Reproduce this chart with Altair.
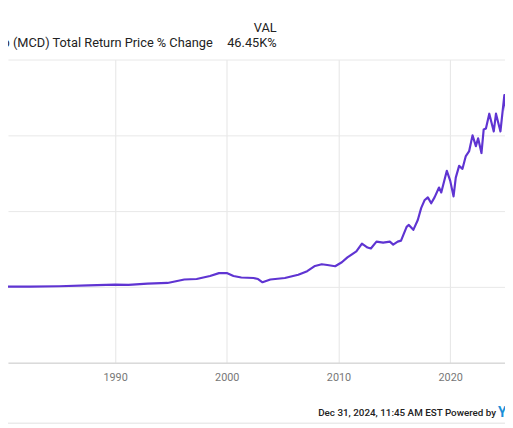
import altair as alt
import pandas as pd

# ---- data (decimal year, total return % change) ----
years = [1979.7, 1982.4, 1985.0, 1987.6, 1990.0, 1991.2, 1992.9, 1994.7, 1996.2, 1997.3,
         1998.5, 1999.3, 2000.0, 2000.6, 2001.3, 2002.4, 2002.8, 2003.2, 2003.9, 2005.2,
         2006.4, 2007.2, 2007.9, 2008.5, 2009.0, 2009.7, 2010.3, 2010.8, 2011.6, 2012.1,
         2012.6, 2012.9, 2013.4, 2014.0, 2014.6, 2014.9, 2015.3, 2015.6, 2016.1, 2016.3,
         2016.7, 2017.1, 2017.4, 2017.7, 2018.0, 2018.3, 2018.6, 2019.0, 2019.2, 2019.7,
         2020.0, 2020.3, 2020.5, 2020.8, 2021.1, 2021.4, 2021.7, 2022.0, 2022.3, 2022.5,
         2022.8, 2023.0, 2023.2, 2023.5, 2023.9, 2024.1, 2024.5, 2024.85, 2025.0]
values = [50, 60, 180, 390, 600, 550, 860, 1040, 1950, 2080,
          2860, 3640, 3640, 2860, 2470, 2340, 2080, 1220, 1950, 2340,
          3200, 4150, 5530, 5970, 5790, 5450, 6490, 7790, 9350, 11430,
          10390, 10130, 11950, 11690, 11950, 11170, 11950, 12210, 15840, 16360,
          15060, 17660, 20780, 22850, 23630, 22070, 23630, 26230, 24930, 30640,
          28050, 23890, 28830, 31940, 31160, 34540, 35840, 39990, 37140, 39210,
          35320, 41550, 41810, 45710, 41030, 45710, 41030, 50640, 46450]

x_ticks = [1980, 1990, 2000, 2010, 2020]
y_ticks = [-20000, 0, 20000, 40000, 60000]

header_label = ["VAL"]
legend_label = ["McDonald's Corp (MCD) Total Return Price % Change"]
final_value = ["46.45K%"]
footer_label = ["Dec 31, 2024, 11:45 AM EST Powered by"]
logo_label = ["Y"]

LINE_COLOR = "#5f34d2"
FONT = "Roboto"

df = pd.DataFrame({"year": years, "value": values})

x_scale = alt.Scale(domain=[1980.414, 2024.907], nice=False, zero=False)
y_scale = alt.Scale(domain=[-20000, 60000], nice=False)

line = alt.Chart(df).mark_line(
    color=LINE_COLOR, strokeWidth=2.2, clip=True, strokeJoin="round"
).encode(
    x=alt.X("year:Q", scale=x_scale,
            axis=alt.Axis(values=x_ticks, format="d", title=None, grid=True,
                          gridColor="#e4e4e4", domainColor="#cfcfcf", ticks=False,
                          labelColor="#777777", labelFont=FONT, labelFontSize=11,
                          labelPadding=9, labelFlush=False, labelBound=False,
                          labelOverlap=False)),
    y=alt.Y("value:Q", scale=y_scale,
            axis=alt.Axis(orient="right", values=y_ticks, title=None, grid=True,
                          gridColor="#e8e8e8", domain=False, ticks=False,
                          labels=False)),
)

def txt(labels, x, y, align, size, color="#222222", weight="normal"):
    return alt.Chart(pd.DataFrame({"t": labels})).mark_text(
        align=align, baseline="alphabetic", font=FONT, fontSize=size,
        color=color, fontWeight=weight
    ).encode(text="t:N", x=alt.value(x), y=alt.value(y))

header = txt(header_label, 273, -28, "right", 13)
legend = txt(legend_label, 208, -13, "right", 13)
final = txt(final_value, 273, -13, "right", 13)
footer = txt(footer_label, 496, 362, "right", 10, "#222222", 500)
logo = txt(logo_label, 498, 363, "left", 14, "#1a8fd8", "bold")

bottom_rule = alt.Chart(pd.DataFrame({"a": [0]})).mark_rule(
    color="#e0e0e0", strokeWidth=1
).encode(x=alt.value(0), x2=alt.value(505), y=alt.value(369.5))

chart = alt.layer(line, header, legend, final, footer, logo, bottom_rule).properties(
    width=505, height=308,
    autosize=alt.AutoSizeParams(type="none"),
    padding={"left": 0, "top": 49, "right": 0, "bottom": 63},
).configure_view(stroke=None)

chart.save("out.html", embed_options={"renderer": "svg", "actions": False})
